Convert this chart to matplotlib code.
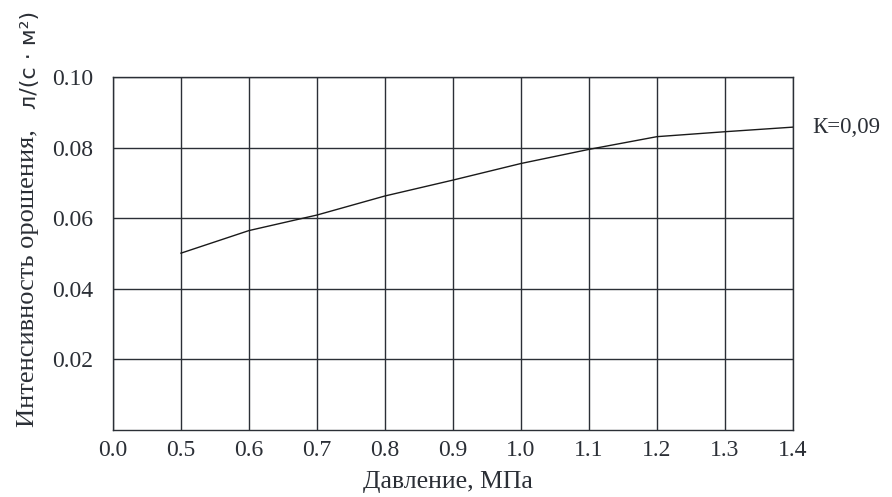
import matplotlib
matplotlib.use("Agg")
import matplotlib.pyplot as plt
from matplotlib.transforms import offset_copy

x_labels = ["0.0", "0.5", "0.6", "0.7", "0.8", "0.9", "1.0", "1.1", "1.2", "1.3", "1.4"]
pressure = [0.5, 0.6, 0.7, 0.8, 0.9, 1.0, 1.1, 1.2, 1.3, 1.4]
intensity = [0.0501, 0.0565, 0.0609, 0.0663, 0.0708, 0.0755, 0.0795, 0.0831, 0.0845, 0.0858]
y_ticks = [0.02, 0.04, 0.06, 0.08, 0.10]
y_tick_labels = ["0.02", "0.04", "0.06", "0.08", "0.10"]
series_label = "К=0,09"

serif = ["Liberation Serif", "DejaVu Serif"]
col = "#2b2f36"

fig = plt.figure(figsize=(8.92, 4.97), dpi=100)
ax = fig.add_axes([113/892, 1-430/497, (793-113)/892, (430-77)/497])

pos = [x_labels.index(f"{p:.1f}") for p in pressure]
ax.plot(pos, intensity, color="#1a1a1a", lw=1.0, zorder=3)

ax.set_xlim(0, len(x_labels) - 1)
ax.set_ylim(0, 0.10)
ax.set_xticks(range(len(x_labels)))
ax.set_xticklabels(x_labels, fontfamily=serif, fontsize=17, color=col)
ax.set_yticks(y_ticks)
ax.set_yticklabels(y_tick_labels, fontfamily=serif, fontsize=17, color=col)
ax.tick_params(axis="both", length=0)
ax.tick_params(axis="y", pad=14.5)
ax.tick_params(axis="x", pad=7)
ax.grid(True, color=col, lw=1.0)
for s in ax.spines.values():
    s.set_color(col)
    s.set_linewidth(1.0)

fig.text(448/892, 1-482/497, "Давление, МПа", ha="center", va="center",
         fontfamily=serif, fontsize=18.5, color=col)

fig.text(28/892, 1-278/497, "Интенсивность орошения,", rotation=90, ha="center", va="center",
         fontfamily=serif, fontsize=19, color=col)
fig.text(30/892, 1-60/497, "л/(с · м²)", rotation=90, ha="center", va="center",
         fontfamily="DejaVu Sans", fontsize=16, color=col)

tr = offset_copy(ax.transData, fig=fig, x=19, y=0, units="dots")
ax.text(pos[-1], intensity[-1], series_label, transform=tr, ha="left", va="center",
        fontfamily=serif, fontsize=16.5, color=col, clip_on=False)

fig.savefig("out.png", dpi=100)
